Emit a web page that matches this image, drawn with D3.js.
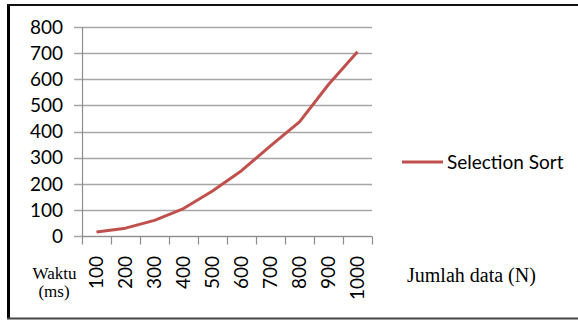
<!DOCTYPE html>
<html>
<head>
<meta charset="utf-8">
<script src="https://cdn.jsdelivr.net/npm/d3@7"></script>
<style>
  body { margin: 0; background: #fff; }
  svg { display: block; }
</style>
</head>
<body>
<div id="chart"></div>
<script>
// Data
const categories = ['100', '200', '300', '400', '500', '600', '700', '800', '900', '1000'];
const selectionSort = [15, 30, 60, 105, 172, 250, 345, 437, 580, 705];
const yTicks = [0, 100, 200, 300, 400, 500, 600, 700, 800];
const seriesName = 'Selection Sort';

const width = 578;
const height = 320;
const margin = { top: 27, right: 206, bottom: 84, left: 82 };

const svg = d3.select('#chart')
    .append('svg')
    .attr('width', width)
    .attr('height', height);

// Frame (left, top, bottom edges)
svg.append('line').attr('x1', 8.5).attr('x2', 8.5).attr('y1', 4).attr('y2', 318)
    .attr('stroke', '#000').attr('stroke-width', 3);
svg.append('line').attr('x1', 7).attr('x2', 578).attr('y1', 5).attr('y2', 5)
    .attr('stroke', '#111').attr('stroke-width', 2);
svg.append('line').attr('x1', 7).attr('x2', 578).attr('y1', 318.5).attr('y2', 318.5)
    .attr('stroke', '#444').attr('stroke-width', 2);

const x = d3.scaleBand()
    .domain(categories)
    .range([margin.left, width - margin.right]);

const y = d3.scaleLinear()
    .domain([0, 800])
    .range([height - margin.bottom, margin.top]);

// Gridlines
svg.append('g')
    .selectAll('line')
    .data(yTicks)
    .join('line')
    .attr('x1', margin.left - 8)
    .attr('x2', width - margin.right)
    .attr('y1', d => Math.round(y(d)) + 0.5)
    .attr('y2', d => Math.round(y(d)) + 0.5)
    .attr('stroke', '#a6a6a6')
    .attr('stroke-width', 1.3);

// Y axis labels
svg.append('g')
    .selectAll('text')
    .data(yTicks)
    .join('text')
    .attr('x', margin.left - 19)
    .attr('y', d => y(d))
    .attr('dy', '0.36em')
    .attr('text-anchor', 'end')
    .attr('font-family', 'Lato, "Liberation Sans", sans-serif')
    .attr('font-size', 19)
    .attr('fill', '#000')
    .text(d => d);

// Y axis line
svg.append('line')
    .attr('x1', margin.left + 0.5).attr('x2', margin.left + 0.5)
    .attr('y1', y(800)).attr('y2', y(0))
    .attr('stroke', '#8c8c8c').attr('stroke-width', 1.2);

// X axis with ticks between categories
const xBase = Math.round(y(0)) + 0.5;
const tickPos = categories.map(c => x(c)).concat([x(categories[categories.length - 1]) + x.bandwidth()]);
svg.append('g')
    .selectAll('line')
    .data(tickPos)
    .join('line')
    .attr('x1', d => Math.round(d) + 0.5)
    .attr('x2', d => Math.round(d) + 0.5)
    .attr('y1', xBase)
    .attr('y2', xBase + 8)
    .attr('stroke', '#8c8c8c')
    .attr('stroke-width', 1.2);

svg.append('line')
    .attr('x1', margin.left).attr('x2', width - margin.right)
    .attr('y1', xBase).attr('y2', xBase)
    .attr('stroke', '#8c8c8c').attr('stroke-width', 1.2);

// X labels, rotated
svg.append('g')
    .selectAll('text')
    .data(categories)
    .join('text')
    .attr('transform', d => `translate(${x(d) + x.bandwidth() / 2},256) rotate(-90)`)
    .attr('dy', '0.36em')
    .attr('text-anchor', 'end')
    .attr('font-family', 'Lato, "Liberation Sans", sans-serif')
    .attr('font-size', 19)
    .attr('fill', '#000')
    .text(d => d);

// Line
const line = d3.line()
    .x((d, i) => x(categories[i]) + x.bandwidth() / 2)
    .y(d => y(d));

svg.append('path')
    .datum(selectionSort)
    .attr('d', line)
    .attr('fill', 'none')
    .attr('stroke', '#c0504d')
    .attr('stroke-width', 3)
    .attr('stroke-linejoin', 'round');

// Legend
svg.append('line')
    .attr('x1', 402).attr('x2', 443)
    .attr('y1', 162).attr('y2', 162)
    .attr('stroke', '#c0504d')
    .attr('stroke-width', 3);
svg.append('text')
    .attr('x', 447)
    .attr('y', 162)
    .attr('dy', '0.36em')
    .attr('font-family', 'Lato, "Liberation Sans", sans-serif')
    .attr('font-size', 19)
    .attr('fill', '#000')
    .text(seriesName);

// Axis titles
svg.append('text')
    .attr('x', 407).attr('y', 282)
    .attr('font-family', '"Liberation Serif", "DejaVu Serif", serif')
    .attr('font-size', 20)
    .attr('fill', '#000')
    .text('Jumlah data (N)');

svg.append('text')
    .attr('x', 54.5).attr('y', 279)
    .attr('text-anchor', 'middle')
    .attr('font-family', '"Liberation Serif", "DejaVu Serif", serif')
    .attr('font-size', 17)
    .attr('fill', '#000')
    .text('Waktu');
svg.append('text')
    .attr('x', 54).attr('y', 297)
    .attr('text-anchor', 'middle')
    .attr('font-family', '"Liberation Serif", "DejaVu Serif", serif')
    .attr('font-size', 17)
    .attr('fill', '#000')
    .text('(ms)');
</script>
</body>
</html>
